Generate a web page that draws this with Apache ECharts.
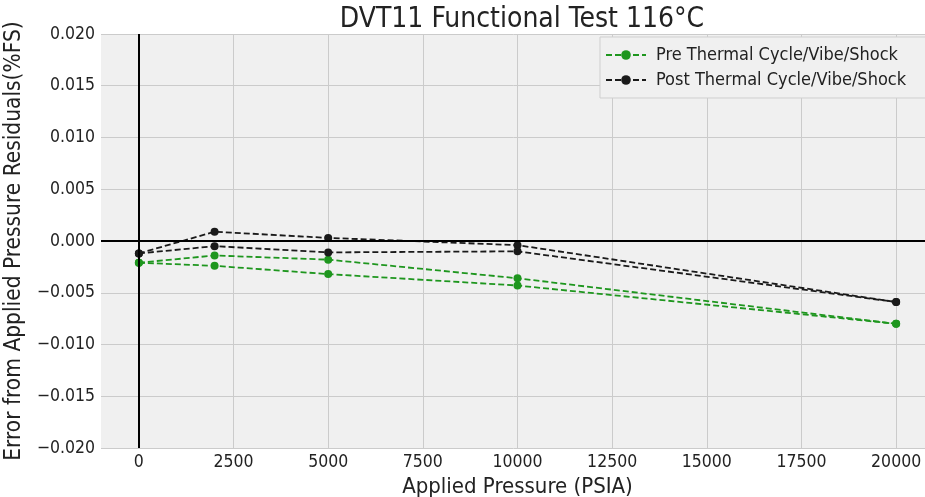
<!DOCTYPE html>
<html>
<head>
<meta charset="utf-8">
<script src="https://cdn.jsdelivr.net/npm/echarts@6/dist/echarts.min.js"></script>
<style>html,body{margin:0;padding:0;background:#fff;}#c{width:925px;height:497px;}</style>
</head>
<body>
<div id="c"></div>
<script>
const pressures = [0, 2000, 5000, 10000, 20000];
const preRunA  = [-0.0021, -0.0014, -0.0018, -0.0036, -0.0080];
const preRunB  = [-0.0021, -0.0024, -0.0032, -0.0043, -0.0080];
const postRunA = [-0.0012,  0.0009,  0.0003, -0.0004, -0.0059];
const postRunB = [-0.0012, -0.0005, -0.0011, -0.0010, -0.0059];
const xTicks = [0, 2500, 5000, 7500, 10000, 12500, 15000, 17500, 20000];
const preName = 'Pre Thermal Cycle/Vibe/Shock';
const postName = 'Post Thermal Cycle/Vibe/Shock';
const FONT = 'DejaVu Sans Condensed';
const GREEN = '#1e961e';
const BLACK = '#1a1a1a';

function pairs(ys){ return pressures.map((x,i)=>[x, ys[i]]); }
function mkSeries(name, ys, color, withMarks){
  const s = {
    name: name, type: 'line', data: pairs(ys),
    symbol: 'circle', symbolSize: 8, showSymbol: true,
    lineStyle: {color: color, width: 1.8, type: [6,3]},
    itemStyle: {color: color},
    emphasis: {disabled: true}, animation: false, z: 3
  };
  if (withMarks) {
    s.markLine = {
      silent: true, symbol: 'none', animation: false,
      label: {show: false},
      lineStyle: {color: '#000', width: 2, type: 'solid'},
      data: [{xAxis: 0}, {yAxis: 0}]
    };
  }
  return s;
}

const chart = echarts.init(document.getElementById('c'), null, {renderer: 'canvas'});
chart.setOption({
  backgroundColor: '#ffffff',
  animation: false,
  title: {
    text: 'DVT11 Functional Test 116°C',
    left: 517, top: 1, textAlign: 'center',
    textStyle: {fontFamily: FONT, fontSize: 28, fontWeight: 'normal', color: '#222'}
  },
  legend: {
    orient: 'vertical', left: 600, top: 37,
    data: [preName, postName],
    itemWidth: 40, itemHeight: 12, itemGap: 5,
    padding: [8, 40, 8, 5],
    backgroundColor: '#f0f0f0', borderColor: '#cfcfcf', borderWidth: 1,
    textStyle: {fontFamily: FONT, fontSize: 18, color: '#222', lineHeight: 20, padding: [0,0,0,5]}
  },
  grid: {left: 101, top: 34, width: 833, height: 414, show: true,
         outerBoundsMode: 'none', containLabel: false,
         backgroundColor: '#f0f0f0', borderWidth: 0},
  xAxis: {
    type: 'value', min: -1000, max: 21000,
    name: 'Applied Pressure (PSIA)', nameLocation: 'middle', nameGap: 10,
    nameTextStyle: {fontFamily: FONT, fontSize: 22, color: '#222'},
    axisLine: {show: false}, axisTick: {show: false, customValues: xTicks},
    axisLabel: {customValues: xTicks, fontFamily: FONT, fontSize: 17.5, color: '#222', margin: 5,
      formatter: function(v){ return String(Math.round(v)); }},
    splitLine: {show: true, lineStyle: {color: '#cbcbcb', width: 1}}
  },
  yAxis: {
    type: 'value', min: -0.02, max: 0.02, interval: 0.005,
    name: 'Error from Applied Pressure Residuals(%FS)', nameLocation: 'middle', nameGap: 74,
    nameTextStyle: {fontFamily: FONT, fontSize: 22.5, color: '#222'},
    axisLine: {show: false}, axisTick: {show: false},
    axisLabel: {fontFamily: FONT, fontSize: 17.5, color: '#222', margin: 6,
      formatter: function(v){ if (Math.abs(v) < 1e-9) return '0.000'; return (v < 0 ? '\u2212' : '') + Math.abs(v).toFixed(3); }},
    splitLine: {show: true, lineStyle: {color: '#cbcbcb', width: 1}}
  },
  series: [
    mkSeries(preName, preRunA, GREEN, true),
    mkSeries(preName, preRunB, GREEN, false),
    mkSeries(postName, postRunA, BLACK, false),
    mkSeries(postName, postRunB, BLACK, false)
  ]
});
</script>
</body>
</html>
